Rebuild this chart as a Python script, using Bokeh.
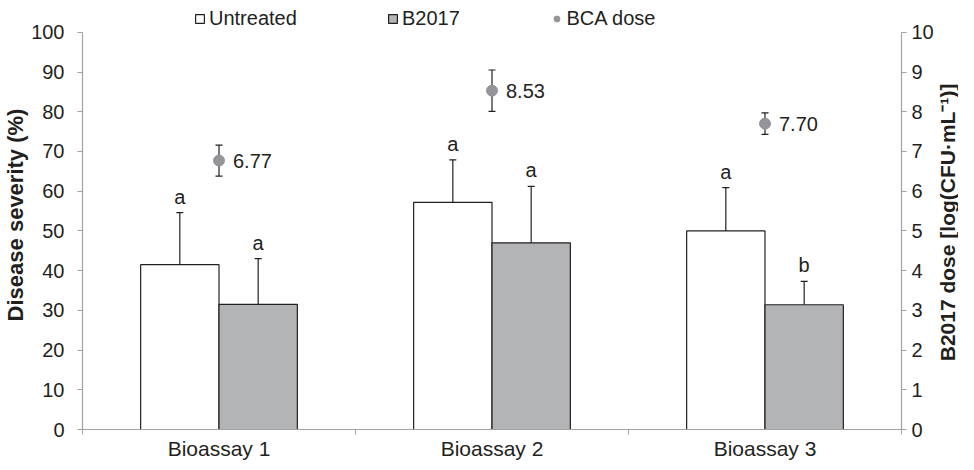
import math
from bokeh.plotting import figure
from bokeh.layouts import row
from bokeh.models import (Range1d, LinearAxis, FixedTicker, Whisker, TeeHead,
                          ColumnDataSource, Legend, LegendItem)
from bokeh.core.properties import value
from bokeh.embed import file_html
from bokeh.resources import INLINE

categories = ["Bioassay 1", "Bioassay 2", "Bioassay 3"]
untreated = [41.5, 57.2, 50.0]
untreated_err = [13.1, 10.7, 10.9]
b2017 = [31.5, 47.0, 31.4]
b2017_err = [11.5, 14.2, 5.9]
untreated_letters = ["a", "a", "a"]
b2017_letters = ["a", "a", "b"]
dose = [6.77, 8.53, 7.70]
dose_err = [0.39, 0.52, 0.27]
dose_labels = ["6.77", "8.53", "7.70"]
right_title = "B2017 dose [log(CFU·mL⁻¹)]"

FONT = "Liberation Sans"
DARK = "#231f20"
GRAY_BAR = "#b3b4b6"
GRAY_DOT = "#939598"
AXIS_GRAY = "#a3a3a3"

bw = 0.287
centers = [i + 0.5 for i in range(len(categories))]
xu = [c - bw / 2 for c in centers]
xb = [c + bw / 2 for c in centers]

H = 462
# frame extends above the 100 % line to leave room for the legend inside it
p = figure(width=936, height=H, x_range=Range1d(0, 3), y_range=Range1d(0, 108),
           output_backend="svg", toolbar_location=None, x_axis_location=None,
           y_axis_location=None)
p.min_border_left = 75
p.min_border_right = 33
p.min_border_top = 0
p.min_border_bottom = 30
p.outline_line_color = None
p.xgrid.visible = False
p.ygrid.visible = False
p.extra_y_ranges = {"dose": Range1d(0, 10.8)}

src_u = ColumnDataSource(dict(x=xu, top=untreated, up=[t + e for t, e in zip(untreated, untreated_err)],
                              lab=untreated_letters))
src_b = ColumnDataSource(dict(x=xb, top=b2017, up=[t + e for t, e in zip(b2017, b2017_err)],
                              lab=b2017_letters))
src_d = ColumnDataSource(dict(x=centers, y=dose, lo=[d - e for d, e in zip(dose, dose_err)],
                              hi=[d + e for d, e in zip(dose, dose_err)], lab=dose_labels))

for src in (src_u, src_b):
    p.add_layout(Whisker(base="x", lower="top", upper="up", source=src, dimension="height",
                         line_color=DARK, line_width=1.2,
                         upper_head=TeeHead(size=7, line_color=DARK, line_width=1.2),
                         lower_head=None))

r_u = p.vbar(x="x", top="top", bottom=0, width=bw, source=src_u, fill_color="white",
             line_color=DARK, line_width=1.2)
r_b = p.vbar(x="x", top="top", bottom=0, width=bw, source=src_b, fill_color=GRAY_BAR,
             line_color=DARK, line_width=1.2)

for src in (src_u, src_b):
    p.text(x="x", y="up", text="lab", source=src, text_align="center", text_baseline="bottom",
           y_offset=-5, text_font=value(FONT), text_font_size="20px", text_color=DARK)

p.add_layout(Whisker(base="x", lower="lo", upper="hi", source=src_d, dimension="height",
                     y_range_name="dose", line_color=DARK, line_width=1.2,
                     upper_head=TeeHead(size=7, line_color=DARK, line_width=1.2),
                     lower_head=TeeHead(size=7, line_color=DARK, line_width=1.2)))
r_d = p.scatter(x="x", y="y", source=src_d, y_range_name="dose", size=11,
                fill_color=GRAY_DOT, line_color=GRAY_DOT)
p.text(x="x", y="y", text="lab", source=src_d, y_range_name="dose", x_offset=14,
       text_align="left", text_baseline="middle", text_font=value(FONT),
       text_font_size="20px", text_color=DARK)

def style(ax):
    ax.axis_line_color = AXIS_GRAY
    ax.axis_line_width = 1.2
    ax.major_tick_line_color = AXIS_GRAY
    ax.major_tick_out = 5
    ax.major_tick_in = 0
    ax.minor_tick_line_color = None
    ax.major_label_text_font = FONT
    ax.major_label_text_font_size = "20px"
    ax.major_label_text_color = DARK
    ax.axis_label_text_font = FONT
    ax.axis_label_text_font_size = "22px"
    ax.axis_label_text_font_style = "bold"
    ax.axis_label_text_color = DARK

xax = LinearAxis(ticker=FixedTicker(ticks=centers, minor_ticks=[0, 1, 2, 3]))
style(xax)
xax.major_tick_line_color = None
xax.major_tick_out = 0
xax.minor_tick_line_color = AXIS_GRAY
xax.minor_tick_out = 5
xax.minor_tick_in = 0
xax.major_label_overrides = {c: n for c, n in zip(centers, categories)}
xax.major_label_standoff = 2
xax.major_label_text_font_size = "21px"
p.add_layout(xax, "below")

yl = LinearAxis(ticker=FixedTicker(ticks=list(range(0, 101, 10))), bounds=(0, 100),
                axis_label="Disease severity (%)")
style(yl)
yl.major_label_standoff = 13
yl.axis_label_standoff = 0
p.add_layout(yl, "left")

yr = LinearAxis(y_range_name="dose", ticker=FixedTicker(ticks=list(range(0, 11))),
                bounds=(0, 10))
style(yr)
yr.major_label_standoff = 5
p.add_layout(yr, "right")

for r, lab, loc, gw, st in ((r_u, "Untreated", (112, 399), 11, 4),
                            (r_b, "B2017", (305, 399), 11, 4),
                            (r_d, "BCA dose", (466.5, 399), 15, 3)):
    lg = Legend(items=[LegendItem(label=lab, renderers=[r])], location=loc,
                orientation="horizontal", padding=0, margin=0, border_line_color=None,
                background_fill_alpha=0, glyph_width=gw, glyph_height=gw,
                label_standoff=st, label_text_font=FONT, label_text_font_size="20px",
                label_text_color=DARK, label_height=20)
    p.add_layout(lg, "center")

# narrow strip holding the right axis title, reading bottom-to-top
p2 = figure(width=22, height=H, x_range=Range1d(0, 1), y_range=Range1d(0, H),
            output_backend="svg", toolbar_location=None, x_axis_location=None,
            y_axis_location=None, min_border=0)
p2.outline_line_color = None
p2.xgrid.visible = False
p2.ygrid.visible = False
p2.text(x=[0.5], y=[H - 239], text=[right_title], angle=math.pi / 2, text_align="center",
        text_baseline="middle", text_font=value(FONT), text_font_size="21px",
        text_font_style="bold", text_color=DARK)

layout = row(p, p2, spacing=0)
open("out.html", "w").write(file_html(layout, INLINE))
